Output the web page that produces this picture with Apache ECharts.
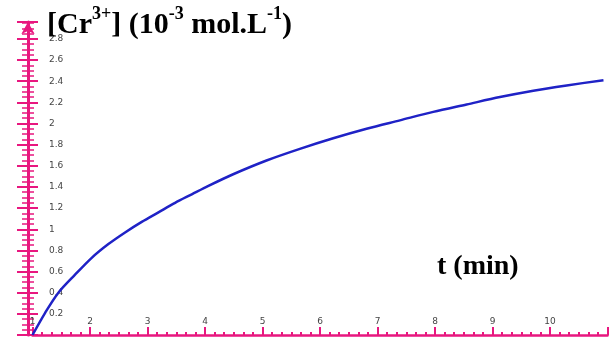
<!DOCTYPE html>
<html>
<head>
<meta charset="utf-8">
<script src="https://cdn.jsdelivr.net/npm/echarts@6/dist/echarts.min.js"></script>
<style>
  html, body { margin: 0; padding: 0; background: #fff; }
  #myChart { width: 611px; height: 340px; }
</style>
</head>
<body>
<div id="myChart"></div>
<script>
// concentration curve, x in the axis' own label units (origin labelled 1)
var tValues = [1, 1.22, 1.45, 1.74, 2.03, 2.32, 2.61, 2.90, 3.19, 3.48, 3.77, 4.06, 4.49, 5.07, 5.65, 6.23, 6.81, 7.39, 7.97, 8.55, 9.13, 9.71, 10.29, 10.93];
var crValues = [0, 0.21, 0.40, 0.57, 0.73, 0.86, 0.97, 1.07, 1.16, 1.25, 1.33, 1.41, 1.52, 1.65, 1.76, 1.86, 1.95, 2.03, 2.11, 2.18, 2.25, 2.31, 2.36, 2.41];
var xTickLabels = ['1', '2', '3', '4', '5', '6', '7', '8', '9', '10'];
var yTickLabels = ['0.2', '0.4', '0.6', '0.8', '1', '1.2', '1.4', '1.6', '1.8', '2', '2.2', '2.4', '2.6', '2.8'];

var pink = '#e8177f';

var myChart = echarts.init(document.getElementById('myChart'));

var points = tValues.map(function (t, i) { return [t, crValues[i]]; });

function fmtY(v) {
    var s = String(Math.round(v * 10) / 10);
    return yTickLabels.indexOf(s) >= 0 ? s : '';
}

myChart.setOption({
    animation: false,
    grid: { left: 32.5, right: 3.5, top: 22, bottom: 5 },
    xAxis: {
        type: 'value',
        min: 1,
        max: 11,
        interval: 1,
        splitLine: { show: false },
        axisLine: { lineStyle: { color: pink, width: 2.5 }, onZero: false },
        axisTick: { inside: true, length: 8, lineStyle: { color: pink, width: 2 } },
        minorTick: { show: true, splitNumber: 6, length: 3, lineStyle: { color: pink, width: 2 } },
        axisLabel: {
            inside: true,
            margin: 9,
            fontSize: 9,
            color: '#444',
            fontFamily: 'DejaVu Sans',
            showMaxLabel: false,
            formatter: function (v) {
                var s = String(v);
                return xTickLabels.indexOf(s) >= 0 ? s : '';
            }
        }
    },
    yAxis: [{
        type: 'value',
        position: 'left',
        min: 0,
        max: 2.96,
        interval: 0.2,
        offset: 4.5,
        splitLine: { show: false },
        axisLine: {
            onZero: false,
            symbol: ['none', 'arrow'],
            symbolSize: [10, 12],
            lineStyle: { color: pink, width: 3 }
        },
        axisTick: { inside: false, length: 11, lineStyle: { color: pink, width: 2 } },
        minorTick: { show: true, splitNumber: 4, length: 6, lineStyle: { color: pink, width: 1.5 } },
        axisLabel: {
            inside: true,
            margin: 21,
            fontSize: 9,
            color: '#444',
            fontFamily: 'DejaVu Sans',
            showMaxLabel: false,
            formatter: fmtY
        }
    }, {
        type: 'value',
        position: 'left',
        min: 0,
        max: 2.96,
        interval: 0.2,
        offset: 4.5,
        splitLine: { show: false },
        axisLine: { show: false, onZero: false },
        axisTick: { inside: true, length: 10, lineStyle: { color: pink, width: 2 } },
        minorTick: { show: true, splitNumber: 4, length: 6, lineStyle: { color: pink, width: 1.5 } },
        axisLabel: { show: false }
    }],
    graphic: [{
        type: 'text',
        left: 47,
        top: 5,
        z: 100,
        style: {
            text: '{b|[Cr}{s|3+}{b|] (10}{s|-3}{b| mol.L}{s|-1}{b|)}',
            rich: {
                b: { fontFamily: 'Liberation Serif', fontWeight: 'bold', fontSize: 30, color: '#000', lineHeight: 35, verticalAlign: 'bottom' },
                s: { fontFamily: 'Liberation Serif', fontWeight: 'bold', fontSize: 18, color: '#000', lineHeight: 35, verticalAlign: 'top' }
            }
        }
    }, {
        type: 'text',
        left: 437,
        top: 253,
        z: 100,
        style: {
            text: 't (min)',
            fontFamily: 'Liberation Serif',
            fontWeight: 'bold',
            fontSize: 28,
            fill: '#000'
        }
    }],
    series: [{
        name: '[Cr3+]',
        type: 'line',
        data: points,
        smooth: 0.3,
        showSymbol: false,
        z: 5,
        lineStyle: { color: '#1f22c6', width: 2.5 }
    }]
});
</script>
</body>
</html>
